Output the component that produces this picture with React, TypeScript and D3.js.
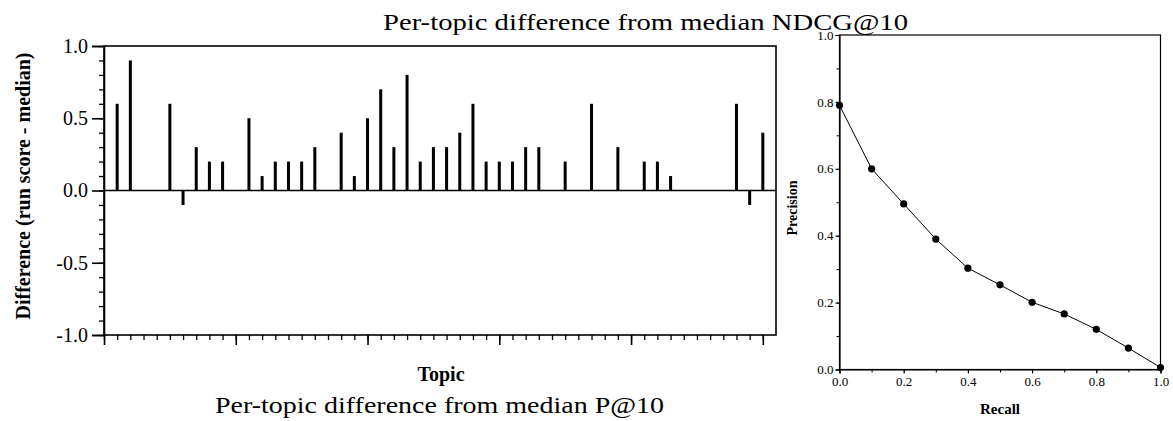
import React, { useEffect, useRef } from "react";
import * as d3 from "d3";

// ---- Data ----
const topics: number[] = Array.from({ length: 50 }, (_, i) => i + 1);
const diffP10: number[] = [
  0.6, 0.9, 0, 0, 0.6, -0.1, 0.3, 0.2, 0.2, 0,
  0.5, 0.1, 0.2, 0.2, 0.2, 0.3, 0, 0.4, 0.1, 0.5,
  0.7, 0.3, 0.8, 0.2, 0.3, 0.3, 0.4, 0.6, 0.2, 0.2,
  0.2, 0.3, 0.3, 0, 0.2, 0, 0.6, 0, 0.3, 0,
  0.2, 0.2, 0.1, 0, 0, 0, 0, 0.6, -0.1, 0.4,
];
const diffYTicks: number[] = [-1.0, -0.5, 0.0, 0.5, 1.0];
const recallLevels: number[] = [0.0, 0.1, 0.2, 0.3, 0.4, 0.5, 0.6, 0.7, 0.8, 0.9, 1.0];
const precisionValues: number[] = [0.79, 0.6, 0.495, 0.39, 0.303, 0.253, 0.201, 0.166, 0.12, 0.064, 0.006];
const prTickLabels: number[] = [0.0, 0.2, 0.4, 0.6, 0.8, 1.0];

const titleTop = "Per-topic difference from median NDCG@10";
const titleBottom = "Per-topic difference from median P@10";
const SERIF = "'Liberation Serif', 'Times New Roman', serif";
const fmt = (d: d3.NumberValue) => d3.format(".1f")(d as number).replace("\u2212", "-");

export default function App() {
  const ref = useRef<SVGSVGElement | null>(null);

  useEffect(() => {
    const svg = d3.select(ref.current);
    svg.selectAll("*").remove();

    // ---------- Left: per-topic difference ----------
    const L = { x0: 104, x1: 776, y0: 46, y1: 335 };
    const x = d3.scaleLinear().domain([0, 51]).range([L.x0, L.x1]);
    const y = d3.scaleLinear().domain([-1, 1]).range([L.y1, L.y0]);
    const gL = svg.append("g");

    gL.append("rect")
      .attr("x", L.x0).attr("y", L.y0)
      .attr("width", L.x1 - L.x0).attr("height", L.y1 - L.y0)
      .attr("fill", "none").attr("stroke", "#000").attr("stroke-width", 1.6);

    const yMinor = d3.range(-10, 11).map((d) => d / 10);
    gL.append("g").attr("transform", `translate(${L.x0},0)`)
      .call(d3.axisLeft(y).tickValues(yMinor).tickSize(5).tickFormat(() => ""))
      .call((g) => g.select(".domain").remove())
      .call((g) => g.selectAll("line").attr("stroke-width", 1.3));
    gL.append("g").attr("transform", `translate(${L.x0},0)`)
      .call(d3.axisLeft(y).tickValues(diffYTicks).tickSize(12).tickPadding(4).tickFormat(fmt))
      .call((g) => g.select(".domain").attr("stroke-width", 1.6))
      .call((g) => g.selectAll("line").attr("stroke-width", 1.6))
      .call((g) => g.selectAll("text").attr("font-family", SERIF).attr("font-size", 20).attr("fill", "#000"));

    gL.append("g").attr("transform", `translate(0,${L.y1})`)
      .call(d3.axisBottom(x).tickValues(d3.range(0, 51)).tickSize(5).tickFormat(() => ""))
      .call((g) => g.select(".domain").remove())
      .call((g) => g.selectAll("line").attr("stroke-width", 1.3));
    gL.append("g").attr("transform", `translate(0,${L.y1})`)
      .call(d3.axisBottom(x).tickValues([0, 10, 20, 30, 40, 50]).tickSize(10).tickFormat(() => ""))
      .call((g) => g.select(".domain").remove())
      .call((g) => g.selectAll("line").attr("stroke-width", 1.6));

    gL.append("line")
      .attr("x1", L.x0).attr("x2", L.x1)
      .attr("y1", y(0)).attr("y2", y(0))
      .attr("stroke", "#000").attr("stroke-width", 1.6);

    gL.append("g").selectAll("rect").data(topics).join("rect")
      .attr("x", (t) => x(t) - 1.5)
      .attr("width", 3)
      .attr("y", (t, i) => Math.min(y(0), y(diffP10[i])))
      .attr("height", (t, i) => Math.abs(y(0) - y(diffP10[i])))
      .attr("fill", "#000");

    gL.append("text")
      .attr("transform", `translate(30,186) rotate(-90)`)
      .attr("text-anchor", "middle")
      .attr("font-family", SERIF).attr("font-weight", "bold").attr("font-size", 20)
      .text("Difference (run score - median)");
    gL.append("text")
      .attr("x", 441).attr("y", 381)
      .attr("text-anchor", "middle")
      .attr("font-family", SERIF).attr("font-weight", "bold").attr("font-size", 20)
      .text("Topic");
    gL.append("text")
      .attr("x", 439.5).attr("y", 413)
      .attr("text-anchor", "middle")
      .attr("font-family", SERIF).attr("font-size", 23.5)
      .attr("textLength", 449).attr("lengthAdjust", "spacingAndGlyphs")
      .text(titleBottom);

    svg.append("text")
      .attr("x", 645.5).attr("y", 30)
      .attr("text-anchor", "middle")
      .attr("font-family", SERIF).attr("font-size", 23.5)
      .attr("textLength", 525).attr("lengthAdjust", "spacingAndGlyphs")
      .text(titleTop);

    // ---------- Right: precision-recall ----------
    const R = { x0: 839.5, x1: 1160.5, y0: 35, y1: 369.5 };
    const rx = d3.scaleLinear().domain([0, 1]).range([R.x0, R.x1]);
    const ry = d3.scaleLinear().domain([0, 1]).range([R.y1, R.y0]);
    const gR = svg.append("g");

    gR.append("rect")
      .attr("x", R.x0).attr("y", R.y0)
      .attr("width", R.x1 - R.x0).attr("height", R.y1 - R.y0)
      .attr("fill", "none").attr("stroke", "#000").attr("stroke-width", 1.2);

    const minor = d3.range(0, 11).map((d) => d / 10);
    gR.append("g").attr("transform", `translate(${R.x0},0)`)
      .call(d3.axisLeft(ry).tickValues(minor).tickSize(3).tickFormat(() => ""))
      .call((g) => g.select(".domain").remove());
    gR.append("g").attr("transform", `translate(${R.x0},0)`)
      .call(d3.axisLeft(ry).tickValues(prTickLabels).tickSize(4).tickPadding(2).tickFormat(fmt))
      .call((g) => g.select(".domain").attr("stroke-width", 1.2))
      .call((g) => g.selectAll("text").attr("font-family", SERIF).attr("font-size", 13).attr("fill", "#000"));
    gR.append("g").attr("transform", `translate(0,${R.y1})`)
      .call(d3.axisBottom(rx).tickValues(minor).tickSize(3).tickFormat(() => ""))
      .call((g) => g.select(".domain").remove());
    gR.append("g").attr("transform", `translate(0,${R.y1})`)
      .call(d3.axisBottom(rx).tickValues(prTickLabels).tickSize(4).tickPadding(3).tickFormat(fmt))
      .call((g) => g.select(".domain").attr("stroke-width", 1.2))
      .call((g) => g.selectAll("text").attr("font-family", SERIF).attr("font-size", 13).attr("fill", "#000"));

    const line = d3.line<number>()
      .x((d, i) => rx(recallLevels[i]))
      .y((d) => ry(d));
    gR.append("path")
      .datum(precisionValues)
      .attr("d", line)
      .attr("fill", "none").attr("stroke", "#000").attr("stroke-width", 1);
    gR.append("g").selectAll("circle").data(precisionValues).join("circle")
      .attr("cx", (d, i) => rx(recallLevels[i]))
      .attr("cy", (d) => ry(d))
      .attr("r", 3.6)
      .attr("fill", "#000");

    gR.append("text")
      .attr("transform", `translate(797,208) rotate(-90)`)
      .attr("text-anchor", "middle")
      .attr("font-family", SERIF).attr("font-weight", "bold").attr("font-size", 14)
      .text("Precision");
    gR.append("text")
      .attr("x", (R.x0 + R.x1) / 2).attr("y", 414)
      .attr("text-anchor", "middle")
      .attr("font-family", SERIF).attr("font-weight", "bold").attr("font-size", 15)
      .text("Recall");
  }, []);

  return (
    <svg
      ref={ref}
      width={1173}
      height={421}
      style={{ position: "absolute", left: 0, top: 0, background: "#fff" }}
    />
  );
}
